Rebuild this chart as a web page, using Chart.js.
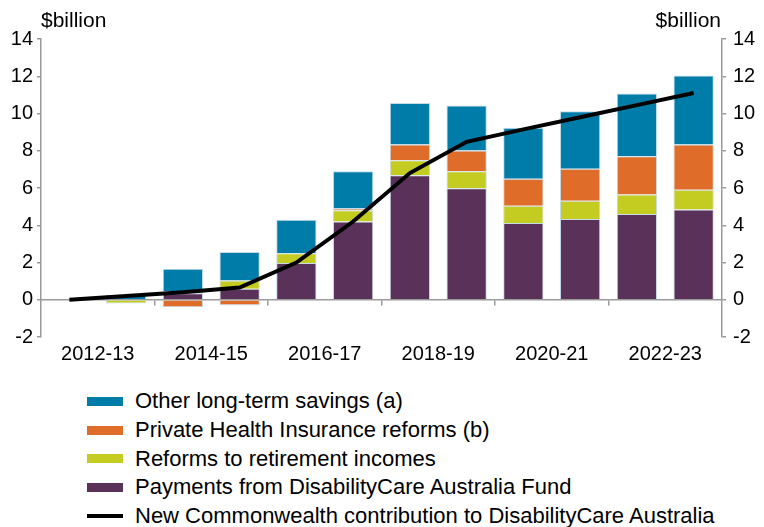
<!DOCTYPE html>
<html>
<head>
<meta charset="utf-8">
<script src="https://cdn.jsdelivr.net/npm/chart.js@4.4.1/dist/chart.umd.min.js"></script>
<style>
  body { margin: 0; background: #fff; font-family: "Liberation Sans", Arial, sans-serif; }
  #wrap { position: relative; width: 764px; height: 527px; }
  #chart { position: absolute; left: 0; top: 0; }
  .unit { position: absolute; top: 9px; font-size: 21px; line-height: 1; color: #000; }
  #legend { position: absolute; left: 87px; top: 387px; }
  .item { display: flex; align-items: center; height: 28.7px; font-size: 22px; color: #000; }
  .swatch { width: 36px; height: 9px; margin-right: 12px; }
  .swatch.line { height: 4px; }
</style>
</head>
<body>
<div id="wrap">
  <canvas id="chart" width="764" height="375"></canvas>
  <div class="unit" style="left:41px">$billion</div>
  <div class="unit" style="right:43px">$billion</div>
  <div id="legend"></div>
</div>
<script>
// financial years, 2012-13 to 2023-24
const categories = ['2012-13', '2013-14', '2014-15', '2015-16', '2016-17', '2017-18',
                    '2018-19', '2019-20', '2020-21', '2021-22', '2022-23', '2023-24'];

// $billion
const payments     = [null, 0, 0.35, 0.59, 1.97, 4.2, 6.68, 5.98, 4.12, 4.34, 4.61, 4.84];
const retirement   = [null, -0.2, 0.1, 0.45, 0.53, 0.6, 0.81, 0.92, 0.93, 0.98, 1.04, 1.07];
const healthIns    = [null, 0, -0.4, -0.3, -0.05, 0.1, 0.84, 1.11, 1.44, 1.72, 2.06, 2.42];
const otherSavings = [null, 0.25, 1.22, 1.52, 1.8, 2.0, 2.24, 2.42, 2.74, 3.08, 3.37, 3.71];
const contribution = [0, 0.2, 0.4, 0.66, 2.0, 4.2, 6.8, 8.48, 9.15, 9.8, 10.45, 11.1];

const yTicks = [-2, 0, 2, 4, 6, 8, 10, 12, 14];

const axisGrey = '#9a9a9a';
const barEdge = 'rgba(190,215,230,0.9)';

Chart.defaults.font.family = '"Liberation Sans", Arial, sans-serif';
Chart.defaults.color = '#000';

const bar = (label, data, color) => ({
    type: 'bar', label, data,
    backgroundColor: color, borderColor: barEdge, borderWidth: 1,
    barPercentage: 0.71, categoryPercentage: 1, stack: 'bars', order: 1
});

const datasets = [
    bar('Payments from DisabilityCare Australia Fund', payments, '#5a3158'),
    bar('Reforms to retirement incomes', retirement, '#c4cc22'),
    bar('Private Health Insurance reforms (b)', healthIns, '#e06c29'),
    bar('Other long-term savings (a)', otherSavings, '#007ca8'),
    {
        type: 'line', label: 'New Commonwealth contribution to DisabilityCare Australia',
        data: contribution, borderColor: '#000', borderWidth: 4, pointRadius: 0,
        tension: 0, stack: 'line', order: 0
    }
];

const yAxis = (side) => ({
    position: side, stacked: true, min: -2, max: 14,
    afterBuildTicks: (s) => { s.ticks = yTicks.map(v => ({ value: v })); },
    afterFit: (s) => { s.width = side === 'left' ? 41 : 42; },
    grid: { drawOnChartArea: false, tickLength: 4, color: axisGrey, lineWidth: 1.5 },
    border: { color: axisGrey, width: 1.5 },
    ticks: { font: { size: 20 }, padding: side === 'left' ? 4 : 7 }
});

const chart = new Chart(document.getElementById('chart'), {
    data: { labels: categories, datasets },
    options: {
        responsive: false,
        animation: false,
        layout: { padding: { top: 39, bottom: 38, left: 0, right: 0 } },
        plugins: { legend: { display: false }, tooltip: { enabled: false } },
        scales: {
            x: {
                position: { y: 0 }, stacked: true,
                afterFit: (s) => { s.paddingLeft = 0; s.paddingRight = 0; },
                grid: {
                    offset: true, drawOnChartArea: false, tickLength: 5, lineWidth: 1.5,
                    color: (ctx) => (ctx.index > 0 && ctx.index % 2 === 0 && ctx.index < 12) ? axisGrey : 'rgba(0,0,0,0)'
                },
                border: { color: axisGrey, width: 1.5 },
                ticks: {
                    autoSkip: false, maxRotation: 0, font: { size: 20 },
                    padding: 38, labelOffset: 28.4,
                    callback: function (val, i) { return i % 2 === 0 ? this.getLabelForValue(val) : ''; }
                }
            },
            y: yAxis('left'),
            y2: yAxis('right')
        }
    }
});

// legend, top to bottom as in the figure
const legend = document.getElementById('legend');
[3, 2, 1, 0, 4].forEach(i => {
    const ds = chart.data.datasets[i];
    const row = document.createElement('div');
    row.className = 'item';
    const sw = document.createElement('span');
    sw.className = ds.type === 'line' ? 'swatch line' : 'swatch';
    sw.style.background = ds.type === 'line' ? ds.borderColor : ds.backgroundColor;
    row.appendChild(sw);
    row.appendChild(document.createTextNode(ds.label));
    legend.appendChild(row);
});
</script>
</body>
</html>
